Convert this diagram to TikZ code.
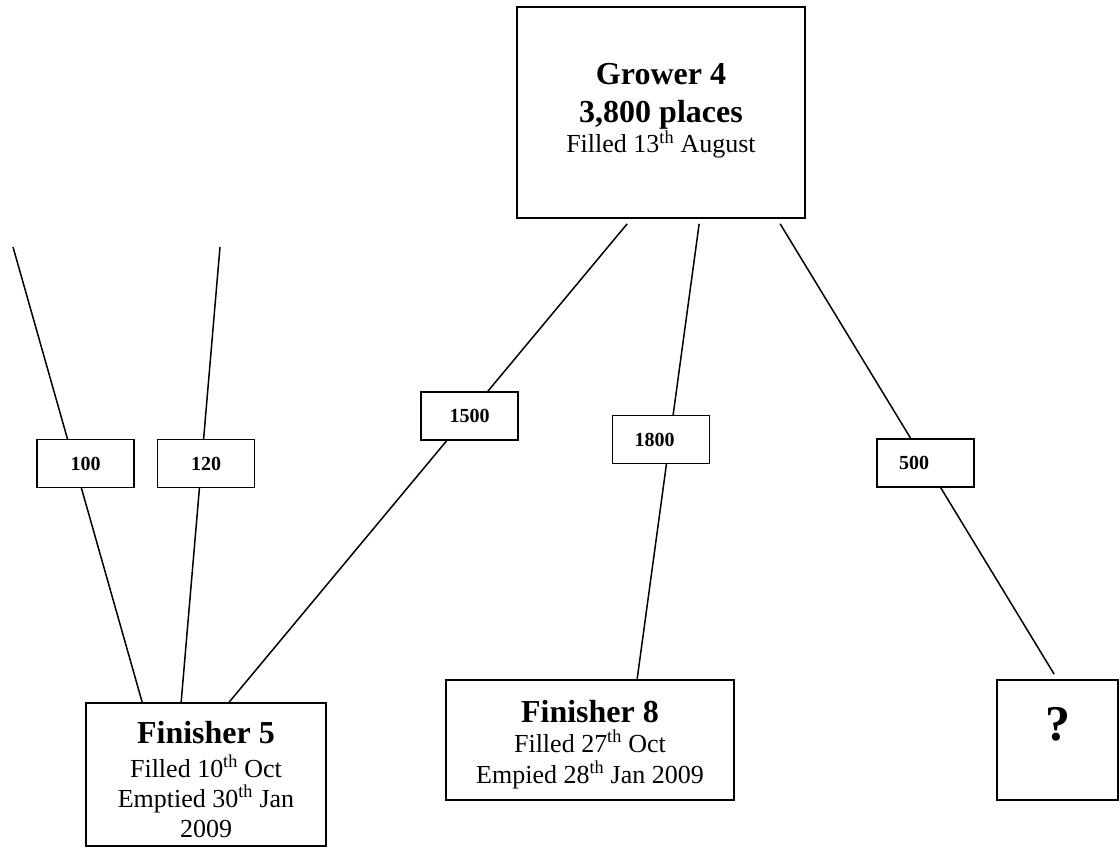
\documentclass[tikz,border=0pt]{standalone}
\usepackage{fontspec}
\setmainfont{Liberation Serif}
\usetikzlibrary{calc}
\begin{document}
\begin{tikzpicture}[x=1pt,y=-1pt,
  box/.style={draw=black, line width=1.7pt, fill=white, inner sep=0pt},
  lbl/.style={draw=black, line width=1.7pt, fill=white, minimum width=97pt, minimum height=48pt, inner sep=0pt, font=\fontsize{20}{24}\selectfont\bfseries},
  link/.style={draw=black, line width=1.5pt},
  ttl/.style={anchor=base, inner sep=0pt, font=\fontsize{32}{38}\selectfont\bfseries},
  txt/.style={anchor=base, inner sep=0pt, font=\fontsize{26}{30}\selectfont},
  qmark/.style={anchor=base, inner sep=0pt, font=\fontsize{50}{56}\selectfont\bfseries}
]
\fill[white] (0,0) rectangle (1120,848);
\useasboundingbox (0,0) rectangle (1120,848);

% Grower
\node[box, minimum width=288pt, minimum height=211pt] (grower) at (661,112.5) {};
\node[ttl] (g1) at (661,85) {Grower 4};
\node[ttl] (g2) at (661,123) {3,800 places};
\node[txt] (g3) at (661,153) {Filled 13\textsuperscript{th} August};

% Finisher 5
\node[box, minimum width=240pt, minimum height=143pt] (fin5) at (206,774.5) {};
\node[ttl] (f5a) at (206,743) {Finisher 5};
\node[txt] (f5b) at (206,777) {Filled 10\textsuperscript{th} Oct};
\node[txt] (f5c) at (206,807) {Emptied 30\textsuperscript{th} Jan};
\node[txt] (f5d) at (206,837) {2009};

% Finisher 8
\node[box, minimum width=288pt, minimum height=120pt] (fin8) at (590,740) {};
\node[ttl] (f8a) at (590,722) {Finisher 8};
\node[txt] (f8b) at (590,752) {Filled 27\textsuperscript{th} Oct};
\node[txt] (f8c) at (590,783) {Empied 28\textsuperscript{th} Jan 2009};

% Unknown
\node[box, minimum width=121pt, minimum height=120pt] (unk) at (1057.5,740) {};
\node[qmark] (q) at (1058,740) {?};

% connector end points
\coordinate (srcA) at ($(grower.south west)+(111,5)$);
\coordinate (srcB) at ($(grower.south west)+(183,5)$);
\coordinate (srcC) at ($(grower.south west)+(264,5)$);
\coordinate (freeA) at (13,247);
\coordinate (freeB) at (220,247);
\coordinate (dstA) at ($(fin5.north west)+(57,0)$);
\coordinate (dstB) at ($(fin5.north west)+(96,0)$);
\coordinate (dstC) at ($(fin5.north west)+(144,0)$);
\coordinate (dstD) at ($(fin8.north west)+(192,0)$);
\coordinate (dstE) at ($(unk.north west)+(58,-5)$);

\draw[link] (freeA) -- (dstA);
\draw[link] (freeB) -- (dstB);
\draw[link] (srcA) -- (dstC);
\draw[link] (srcB) -- (dstD);
\draw[link] (srcC) -- (dstE);

% quantity labels
\node[lbl] (n100) at (85.5,463.5) {100};
\node[lbl] (n120) at (206,463.5) {120};
\node[lbl] (n1500) at (469.5,416) {1500};
\node[lbl, text width=53pt, align=left] (n1800) at (661,439.5) {1800};
\node[lbl, text width=53pt, align=left] (n500) at (925.5,463) {500};
\end{tikzpicture}
\end{document}
